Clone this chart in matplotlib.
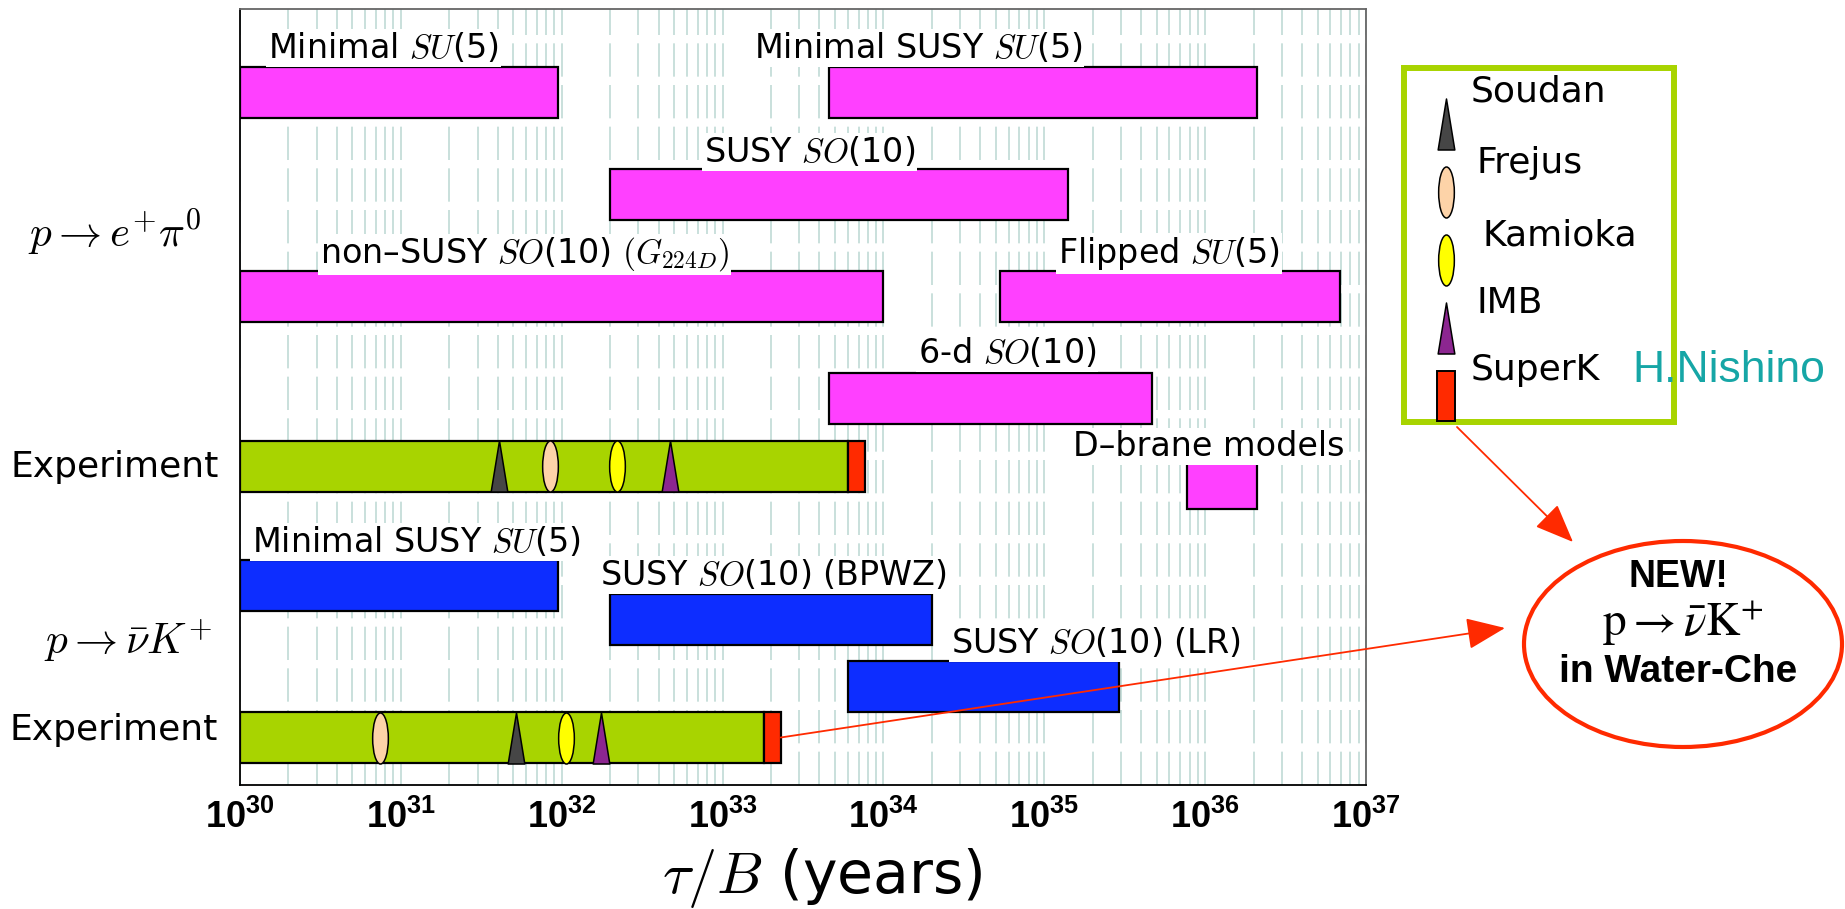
import numpy as np
import matplotlib
matplotlib.use('Agg')
import matplotlib.pyplot as plt
from matplotlib.path import Path
from matplotlib.markers import MarkerStyle
from matplotlib.transforms import Affine2D
from matplotlib.patches import Ellipse, FancyArrowPatch, Rectangle
from matplotlib.ticker import LogLocator, FuncFormatter

plt.rcParams['font.family'] = ['DejaVu Sans']
plt.rcParams['mathtext.fontset'] = 'cm'
plt.rcParams['mathtext.rm'] = 'Liberation Sans'
plt.rcParams['mathtext.bf'] = 'Liberation Sans:bold'
plt.rcParams['mathtext.it'] = 'Liberation Sans:italic'

# ---------------- data ----------------
epi_models = ["Minimal $SU$(5)", "Minimal SUSY $SU$(5)", "SUSY $SO$(10)",
              "non\u2013SUSY $SO$(10) $(G_{\\mathsf{224}D})$", "Flipped $SU$(5)",
              "6-d $SO$(10)", "D\u2013brane models"]
epi_low = [1.0e30, 4.6e33, 2.0e32, 1.0e30, 5.3e34, 4.6e33, 7.7e35]
epi_high = [9.5e31, 2.1e36, 1.4e35, 1.0e34, 6.9e36, 4.7e35, 2.1e36]

nuk_models = ["Minimal SUSY $SU$(5)", "SUSY $SO$(10) (BPWZ)", "SUSY $SO$(10) (LR)"]
nuk_low = [1.0e30, 2.0e32, 6.0e33]
nuk_high = [9.5e31, 2.0e34, 2.9e35]

experiments = ["Soudan", "Frejus", "Kamioka", "IMB", "SuperK"]
epi_exp_limits = [4.1e31, 8.5e31, 2.2e32, 4.7e32]   # Soudan, Frejus, Kamioka, IMB
epi_superk = [6.0e33, 7.7e33]
nuk_exp_limits = [5.2e31, 7.4e30, 1.07e32, 1.75e32]
nuk_superk = [1.8e33, 2.3e33]
exp_floor = 1.0e30

decades = [30, 31, 32, 33, 34, 35, 36, 37]

# ---------------- layout / style ----------------
W, H, DPI = 1845, 909, 100
PINK, BLUE, GREEN, RED = '#ff40ff', '#0d2dff', '#a8d400', '#ff2a00'
exp_colors = ['#464646', '#fdd3a8', '#ffff00', '#8c2690']
exp_shapes = ['tri', 'ell', 'ell', 'tri']

epi_row_y = [92.5, 92.5, 194, 296, 296, 398, 483]
nuk_row_y = [585, 619, 686.5]
exp_row_y = [466, 737.5]
bar_h = 51

epi_label_px = [(268, 58), (754, 58), (704, 162), (320, 263), (1058, 263), (918, 363), (1073, 456)]
nuk_label_px = [(252, 552), (600, 585), (951, 653)]

ax_left, ax_right, ax_top, ax_bottom = 240, 1366, 9, 785


def px_to_year(px):
    return 10 ** (decades[0] + (px - ax_left) / (ax_right - ax_left) * (decades[-1] - decades[0]))


def fx(px):
    return px / W


def fy(py):
    return 1 - py / H


def marker_for(kind, w_over_h):
    if kind == 'tri':
        verts = [(-w_over_h / 2, -0.5), (w_over_h / 2, -0.5), (0, 0.5), (-w_over_h / 2, -0.5)]
        codes = [Path.MOVETO, Path.LINETO, Path.LINETO, Path.CLOSEPOLY]
        return MarkerStyle(Path(verts, codes))
    p = Affine2D().scale(w_over_h / 2, 0.5).transform_path(Path.unit_circle())
    return MarkerStyle(p)


fig = plt.figure(figsize=(W / DPI, H / DPI), dpi=DPI)
ax = fig.add_axes([fx(ax_left), fy(ax_bottom), fx(ax_right - ax_left), (ax_bottom - ax_top) / H])
ax.set_xscale('log')
ax.set_xlim(10.0 ** decades[0], 10.0 ** decades[-1])
ax.set_ylim(ax_bottom, ax_top)
ax.set_axisbelow(True)

ax.set_xticks([10.0 ** d for d in decades])
ax.xaxis.set_minor_locator(LogLocator(base=10, subs=np.arange(2, 10), numticks=100))
ax.xaxis.set_major_formatter(FuncFormatter(lambda v, p: r'$\mathbf{10^{%d}}$' % round(np.log10(v))))
ax.xaxis.set_minor_formatter(FuncFormatter(lambda v, p: ''))
ax.set_yticks([])
ax.tick_params(axis='x', which='both', length=0, pad=10, labelsize=26)
for lab in ax.get_xticklabels():
    lab.set_math_fontfamily('custom')
ax.grid(which='both', axis='x', color='#c0dad5', ls=(0, (20, 5)), lw=1.2)
for s in ['left', 'bottom']:
    ax.spines[s].set_color('black')
    ax.spines[s].set_linewidth(1.3)
for s in ['top', 'right']:
    ax.spines[s].set_color('#666666')
    ax.spines[s].set_linewidth(1.3)

# model bars
for lo, hi, y in zip(epi_low, epi_high, epi_row_y):
    ax.barh(y, hi - lo, left=lo, height=bar_h, color=PINK, edgecolor='black', lw=1.6, zorder=2)
for lo, hi, y in zip(nuk_low, nuk_high, nuk_row_y):
    ax.barh(y, hi - lo, left=lo, height=bar_h, color=BLUE, edgecolor='black', lw=1.6, zorder=2)

# experiment bars
ms_pt = bar_h * 72 / DPI
for y, lims, sk in zip(exp_row_y, [epi_exp_limits, nuk_exp_limits], [epi_superk, nuk_superk]):
    ax.barh(y, sk[0] - exp_floor, left=exp_floor, height=bar_h, color=GREEN, edgecolor='black', lw=1.6, zorder=2)
    ax.barh(y, sk[1] - sk[0], left=sk[0], height=bar_h, color=RED, edgecolor='black', lw=1.6, zorder=2)
    for v, c, sh in zip(lims, exp_colors, exp_shapes):
        wr = 17 / 52 if sh == 'tri' else 16 / 52
        ax.plot([v], [y], ls='none', marker=marker_for(sh, wr), ms=ms_pt, mfc=c, mec='black', mew=1.1, zorder=3)

# bar labels
for txt, (px, py) in zip(epi_models + nuk_models, epi_label_px + nuk_label_px):
    ax.text(px_to_year(px), py, txt, fontsize=24, ha='left', va='baseline', zorder=5,
            bbox=dict(boxstyle='square,pad=0.05', fc='white', ec='none'))

# row labels
fig.text(fx(201), fy(233), r'$p \rightarrow e^{+}\pi^{0}$', fontsize=31, ha='right', va='center')
fig.text(fx(219), fy(467), 'Experiment', fontsize=26, ha='right', va='center')
fig.text(fx(212), fy(641), r'$p \rightarrow \bar{\nu}K^{+}$', fontsize=31, ha='right', va='center')
fig.text(fx(218), fy(730), 'Experiment', fontsize=26, ha='right', va='center')

# x label
fig.text(fx(822), fy(893), r'$\tau/B$ (years)', fontsize=42, ha='center', va='baseline')

# legend box
lx0, ly0, lw_, lh_ = 1404, 68, 270, 354
lax = fig.add_axes([fx(lx0), fy(ly0 + lh_), lw_ / W, lh_ / H])
lax.set_xlim(0, lw_)
lax.set_ylim(lh_, 0)
lax.set_xticks([])
lax.set_yticks([])
for s in lax.spines.values():
    s.set_color(GREEN)
    s.set_linewidth(4.3)
leg_marker_y = [56 + 68 * i for i in range(5)]
leg_text_x = [67, 73, 79, 73, 67]
leg_text_y = [24, 95, 167, 235, 302]
for i, name in enumerate(experiments):
    if i < 4:
        sh = exp_shapes[i]
        wr = 17 / 52 if sh == 'tri' else 16 / 52
        lax.plot([42], [leg_marker_y[i]], ls='none', marker=marker_for(sh, wr), ms=ms_pt,
                 mfc=exp_colors[i], mec='black', mew=1.1, clip_on=False)
    else:
        lax.add_patch(Rectangle((33, leg_marker_y[i] - 25), 18, 50, fc=RED, ec='black', lw=1.4, clip_on=False, zorder=3))
    lax.text(leg_text_x[i], leg_text_y[i], name, fontsize=26, ha='left', va='center')

fig.text(fx(1632), fy(370), 'H.Nishino', color='#16a6a6', fontsize=32, family='Liberation Sans',
         ha='left', va='center', zorder=10)

# ellipse + texts
fig.add_artist(Ellipse((fx(1683), fy(644)), 318 / W, 206 / H, transform=fig.transFigure,
                       fc='white', ec=RED, lw=3.0))
fig.text(fx(1678), fy(577), 'NEW!', fontsize=27, fontweight='bold', family='Liberation Sans',
         ha='center', va='center')
t = fig.text(fx(1683), fy(623), r'$\mathrm{p} \rightarrow \bar{\nu}\mathrm{K}^{+}$', fontsize=34,
             ha='center', va='center')
t.set_math_fontfamily('stix')
fig.text(fx(1678), fy(672), 'in Water-Che', fontsize=28, fontweight='bold', family='Liberation Sans',
         ha='center', va='center')

# arrows
astyle = '-|>,head_length=1.1,head_width=0.45'
fig.add_artist(FancyArrowPatch((fx(1457), fy(427)), (fx(1573), fy(542)), transform=fig.transFigure,
                               arrowstyle=astyle, mutation_scale=22, color=RED, lw=1.3,
                               shrinkA=0, shrinkB=0))
ax.annotate('', xy=(fx(1505), fy(628)), xycoords='figure fraction',
            xytext=(nuk_superk[1], exp_row_y[1]), textcoords='data',
            arrowprops=dict(arrowstyle=astyle, mutation_scale=22, color=RED, lw=1.3,
                            shrinkA=0, shrinkB=0),
            annotation_clip=False, zorder=6)

fig.savefig('out.png', dpi=DPI)
